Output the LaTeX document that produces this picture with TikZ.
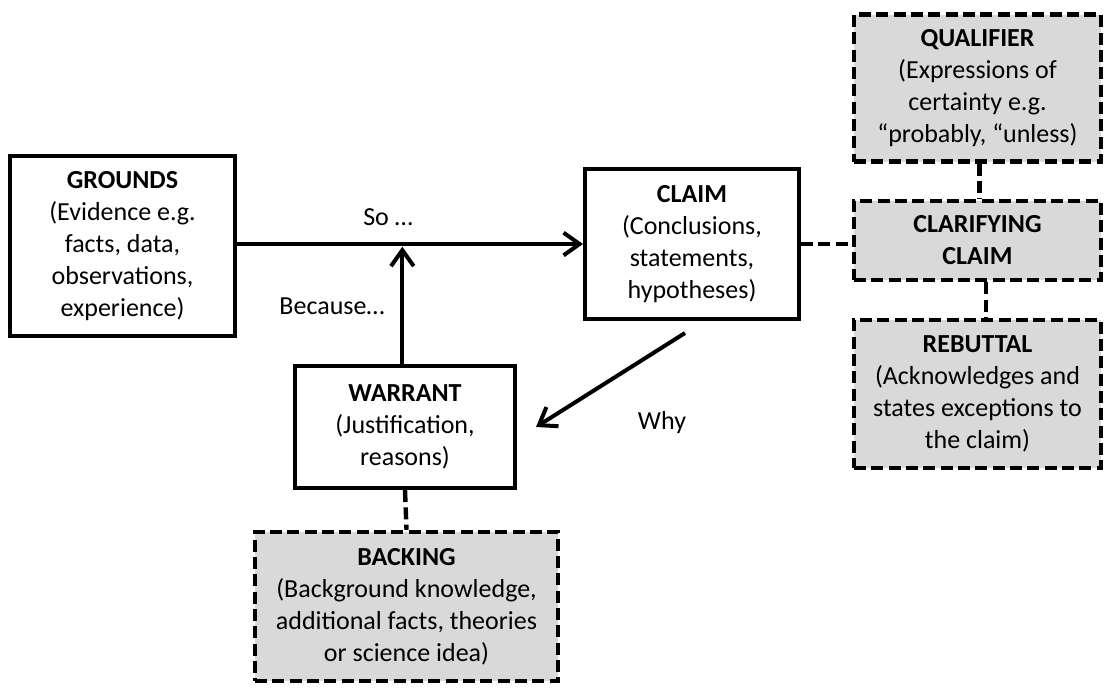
\documentclass[tikz,border=0pt]{standalone}
\usepackage{fontspec}
\setmainfont{Carlito}
\usetikzlibrary{arrows.meta}
\tikzset{
  box/.style={draw=black, line width=3pt, fill=white, align=center, inner sep=0pt,
    font=\fontsize{19.5}{24}\selectfont},
  dbox/.style={box, fill=boxgrey, line width=3.3pt, dash pattern=on 9pt off 4pt},
  arr/.style={line width=3pt, -{Straight Barb[length=12pt,width=17pt]}},
  dline/.style={line width=3.3pt, dash pattern=on 9pt off 4pt},
  lbl/.style={font=\fontsize{19.5}{24}\selectfont, inner sep=0pt}
}
\definecolor{boxgrey}{HTML}{D9D9D9}
\begin{document}
\begin{tikzpicture}[x=0.75pt, y=-0.75pt]
\useasboundingbox (0,0) rectangle (1106,687);
\node[box, minimum width=168.75pt, minimum height=135pt] (GROUNDS) at (122.5,246)
  {\textbf{GROUNDS}\\(Evidence e.g.\\facts, data,\\observations,\\experience)};
\node[box, minimum width=160.5pt, minimum height=112.5pt] (CLAIM) at (692,244)
  {\textbf{CLAIM}\\(Conclusions,\\statements,\\hypotheses)};
\node[box, minimum width=165pt, minimum height=91.5pt] (WARRANT) at (405,427)
  {\textbf{WARRANT}\\(Justification,\\reasons)};
\node[dbox, minimum width=227.25pt, minimum height=111.75pt] (BACKING) at (406.5,606.5)
  {\textbf{BACKING}\\(Background knowledge,\\additional facts, theories\\or science idea)};
\node[dbox, minimum width=185.25pt, minimum height=110.25pt] (QUAL) at (977.5,88)
  {\textbf{QUALIFIER}\\(Expressions of\\certainty e.g.\\“probably, “unless)};
\node[dbox, minimum width=185.25pt, minimum height=59.25pt] (CLAR) at (977.5,240.5)
  {\textbf{CLARIFYING}\\\textbf{CLAIM}};
\node[dbox, minimum width=185.25pt, minimum height=111pt] (REB) at (977.5,394)
  {\textbf{REBUTTAL}\\(Acknowledges and\\states exceptions to\\the claim)};

\node[lbl] (SO) at (388,217) {So …};
\node[lbl] (BEC) at (332,306) {Because…};
\node[lbl] (WHY) at (662,423) {Why};

\draw[arr] (GROUNDS.east |- CLAIM.west) -- (CLAIM.west);
\coordinate (J) at ([xshift=-2]WARRANT.north |- CLAIM.west);
\draw[arr, shorten >=2pt] ([xshift=-2]WARRANT.north) -- (J);
\coordinate (W1) at ([shift={(-7,12)}]CLAIM.south);
\coordinate (W2) at ([shift={(19,0)}]WARRANT.east);
\draw[arr] (W1) -- (W2);

\draw[dline] (CLAIM.east) -- (CLAIM.east -| CLAR.west);
\draw[dline] ([xshift=1.5]QUAL.south) -- ([xshift=1.5]CLAR.north);
\draw[dline] ([xshift=6.5]CLAR.south) -- ([xshift=6.5]REB.north);
\draw[dline] (WARRANT.south) -- (BACKING.north);
\end{tikzpicture}
\end{document}
